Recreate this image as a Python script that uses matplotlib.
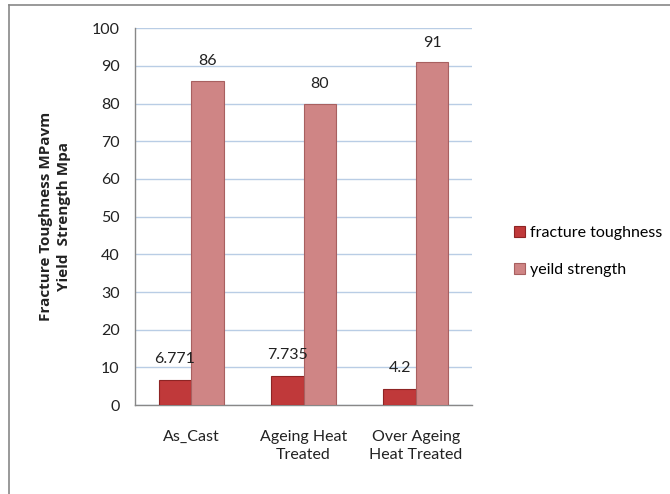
import matplotlib
matplotlib.use("Agg")
import matplotlib.pyplot as plt
from matplotlib.lines import Line2D
import numpy as np

categories = ["As_Cast", "Ageing Heat\nTreated", "Over Ageing\nHeat Treated"]
fracture_toughness = [6.771, 7.735, 4.2]
yield_strength = [86, 80, 91]
fracture_labels = ["6.771", "7.735", "4.2"]
yield_labels = ["86", "80", "91"]
series_names = ["fracture toughness", "yeild strength"]
y_ticks = [0, 10, 20, 30, 40, 50, 60, 70, 80, 90, 100]

plt.rcParams['font.family'] = ['Lato', 'DejaVu Sans']
FS = 11.5

fig = plt.figure(figsize=(6.70, 4.94), dpi=100)
ax = fig.add_axes([0.2015, 0.180, 0.503, 0.763])

x = np.arange(len(categories))
w = 0.29
b1 = ax.bar(x - w / 2, fracture_toughness, w, color="#C0393A",
            edgecolor="#8E2424", linewidth=0.8, label=series_names[0], zorder=3)
b2 = ax.bar(x + w / 2, yield_strength, w, color="#CF8585",
            edgecolor="#A86060", linewidth=0.8, label=series_names[1], zorder=3)

for rect, lab in zip(b1, fracture_labels):
    ax.annotate(lab, (rect.get_x() + rect.get_width() / 2, rect.get_height()),
                xytext=(0, 15), textcoords="offset points", ha="center",
                va="center", fontsize=FS, color="#222222")
for rect, lab in zip(b2, yield_labels):
    ax.annotate(lab, (rect.get_x() + rect.get_width() / 2, rect.get_height()),
                xytext=(0, 14), textcoords="offset points", ha="center",
                va="center", fontsize=FS, color="#222222")

ax.set_xlim(-0.5, 2.5)
ax.set_ylim(0, 100)
ax.set_yticks(y_ticks)
ax.set_xticks(x)
ax.set_xticklabels(categories, fontsize=FS, linespacing=1.35)
ax.tick_params(axis="y", length=0, pad=11, labelsize=FS, labelcolor="#222222")
ax.tick_params(axis="x", length=0, pad=18, labelcolor="#222222")
ax.yaxis.grid(True, color="#B9CDE5", linewidth=1.0, zorder=0)
ax.set_axisbelow(True)
for s in ["top", "right"]:
    ax.spines[s].set_visible(False)
for s in ["left", "bottom"]:
    ax.spines[s].set_color("#888888")
    ax.spines[s].set_linewidth(1.0)

ax.set_ylabel("Fracture Toughness MPavm\nYield  Strength Mpa", fontsize=11,
              family=["Open Sans", "DejaVu Sans"], fontweight="bold",
              labelpad=15, linespacing=1.35, color="#222222")

ax.legend(loc="upper left", bbox_to_anchor=(0.745, 0.572),
          bbox_transform=fig.transFigure, frameon=False, fontsize=FS,
          handlelength=0.7, handleheight=0.7, handletextpad=0.35,
          labelspacing=1.45)

# outer chart border (top and left visible)
fig.add_artist(Line2D([9 / 670, 9 / 670], [0.0, 1 - 5 / 494],
                      transform=fig.transFigure, color="#888888", linewidth=1.2))
fig.add_artist(Line2D([9 / 670, 1.0], [1 - 5 / 494, 1 - 5 / 494],
                      transform=fig.transFigure, color="#888888", linewidth=1.2))

fig.savefig("out.png", dpi=100)
